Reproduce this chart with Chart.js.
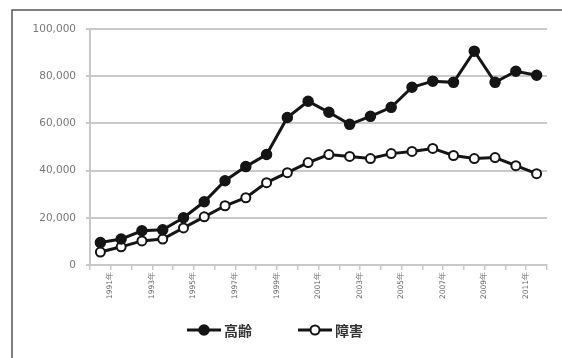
<!DOCTYPE html>
<html>
<head>
<meta charset="utf-8">
<script src="https://cdn.jsdelivr.net/npm/chart.js@4/dist/chart.umd.min.js"></script>
<style>
  html, body { margin: 0; padding: 0; background: #fff; }
  #wrap { position: relative; width: 562px; height: 358px; }
</style>
</head>
<body>
<div id="wrap"><canvas id="c" width="562" height="358"></canvas></div>
<script>
// Years on the horizontal axis (one per point)
const years = ['1991年','1992年','1993年','1994年','1995年','1996年','1997年','1998年','1999年','2000年','2001年',
               '2002年','2003年','2004年','2005年','2006年','2007年','2008年','2009年','2010年','2011年','2012年'];
// Series
const seriesNames = ['高齢', '障害'];
const elderly  = [9500, 11000, 14500, 14900, 20000, 26800, 35700, 41700, 46800, 62500, 69400,
                  64700, 59600, 63000, 66800, 75300, 77900, 77400, 90600, 77400, 82100, 80400];
const disabled = [5500, 7700, 10200, 11000, 15700, 20400, 25100, 28500, 34900, 39100, 43400,
                  46800, 46000, 45100, 47200, 48100, 49400, 46400, 45100, 45500, 42100, 38700];
// Value axis ticks
const yTicks = [0, 20000, 40000, 60000, 80000, 100000];

const GRID = '#c9c9c9';
const INK = '#151515';

// Frame lines and line-with-marker legend
const framePlugin = {
  id: 'frame',
  beforeDraw(chart) {
    const ctx = chart.ctx;
    ctx.save();
    ctx.fillStyle = '#fff';
    ctx.fillRect(0, 0, chart.width, chart.height);
    ctx.strokeStyle = '#555';
    ctx.lineWidth = 1.5;
    ctx.beginPath();
    ctx.moveTo(12, chart.height);
    ctx.lineTo(12, 10);
    ctx.lineTo(chart.width, 10);
    ctx.stroke();
    ctx.restore();
  },
  afterDraw(chart) {
    const ctx = chart.ctx;
    const y = 330;
    const items = [{x: 187, ds: chart.data.datasets[0]}, {x: 298, ds: chart.data.datasets[1]}];
    ctx.save();
    items.forEach(it => {
      ctx.strokeStyle = INK;
      ctx.lineWidth = 3;
      ctx.beginPath();
      ctx.moveTo(it.x, y);
      ctx.lineTo(it.x + 34, y);
      ctx.stroke();
      ctx.beginPath();
      ctx.arc(it.x + 17, y, it.ds.pointRadius, 0, Math.PI * 2);
      ctx.fillStyle = it.ds.pointBackgroundColor;
      ctx.fill();
      ctx.lineWidth = it.ds.pointBorderWidth;
      ctx.strokeStyle = it.ds.pointBorderColor;
      ctx.stroke();
      ctx.fillStyle = '#333';
      ctx.font = 'bold 14px "Noto Sans CJK JP", sans-serif';
      ctx.textBaseline = 'middle';
      ctx.textAlign = 'left';
      ctx.fillText(it.ds.label, it.x + 37, y + 1);
    });
    ctx.restore();
  }
};

new Chart(document.getElementById('c'), {
  type: 'line',
  data: {
    labels: years,
    datasets: [
      {
        label: seriesNames[0], data: elderly,
        borderColor: INK, borderWidth: 3,
        pointRadius: 5, pointBackgroundColor: INK, pointBorderColor: INK, pointBorderWidth: 1.5,
        tension: 0
      },
      {
        label: seriesNames[1], data: disabled,
        borderColor: INK, borderWidth: 3,
        pointRadius: 4.5, pointBackgroundColor: '#fff', pointBorderColor: INK, pointBorderWidth: 2,
        tension: 0
      }
    ]
  },
  options: {
    responsive: false,
    animation: false,
    devicePixelRatio: 1,
    layout: { padding: { left: 0, right: 15, top: 29, bottom: 0 } },
    plugins: { legend: { display: false }, tooltip: { enabled: false } },
    scales: {
      x: {
        type: 'category',
        offset: true,
        grid: { offset: true, drawOnChartArea: false, color: GRID, lineWidth: 1.5, tickLength: 5 },
        border: { color: GRID, width: 2 },
        ticks: {
          autoSkip: false, minRotation: 90, maxRotation: 90, labelOffset: 10, padding: 2,
          color: '#666', font: { size: 7.5, family: 'DejaVu Sans' },
          callback: function (v, i) { return i % 2 === 0 ? this.getLabelForValue(v) : ''; }
        },
        afterFit: s => { s.height = 93; }
      },
      y: {
        min: 0, max: 100000,
        afterBuildTicks: s => { s.ticks = yTicks.map(v => ({ value: v })); },
        grid: { color: GRID, lineWidth: 2, tickLength: 4 },
        border: { color: GRID, width: 2 },
        ticks: {
          padding: 10, color: '#777', font: { size: 10.5, family: 'DejaVu Sans' },
          callback: v => v.toLocaleString('en-US')
        },
        afterFit: s => { s.width = 90; }
      }
    }
  },
  plugins: [framePlugin]
});
</script>
</body>
</html>
